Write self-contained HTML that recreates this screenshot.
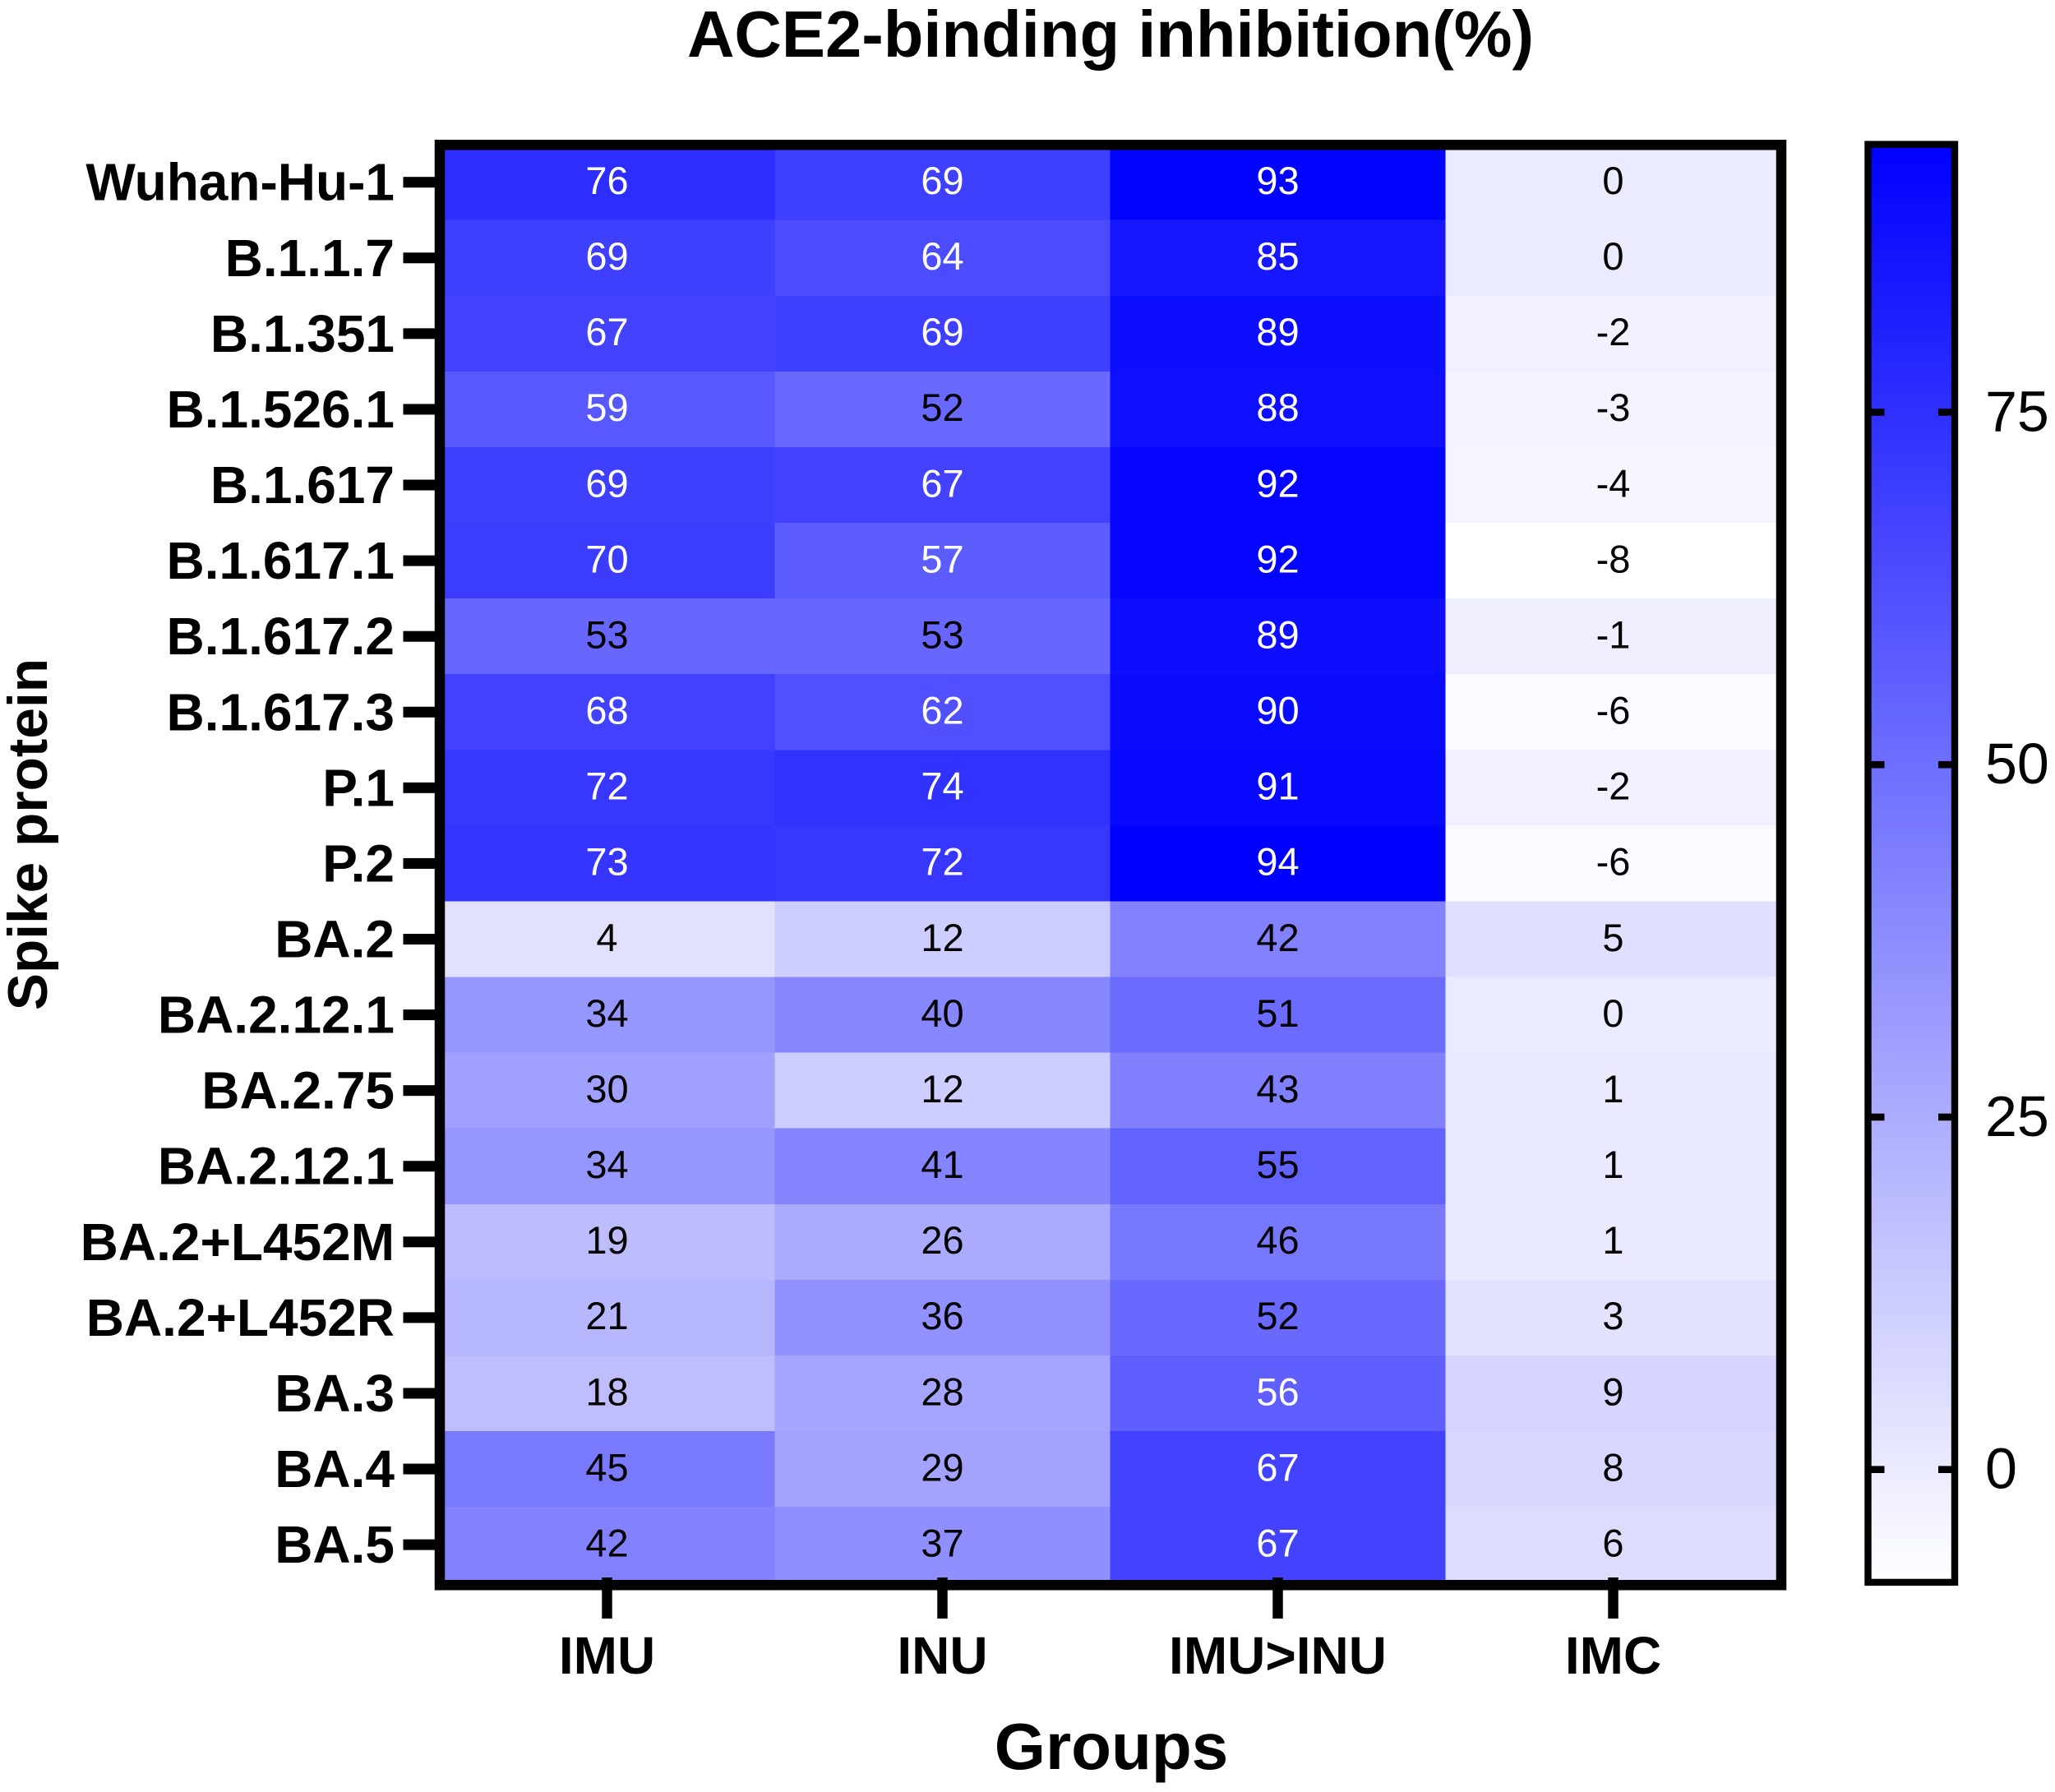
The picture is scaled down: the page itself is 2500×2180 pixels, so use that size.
<!DOCTYPE html>
<html lang="en">
<head>
<meta charset="utf-8">
<title>ACE2-binding inhibition heatmap</title>
<style>
html,body{margin:0;padding:0;background:#fff;}
svg{display:block;font-family:"Liberation Sans",Arial,sans-serif;}
</style>
</head>
<body>
<svg id="chart" xmlns="http://www.w3.org/2000/svg" width="2500" height="2180" viewBox="0 0 2500 2180">
  <defs>
    <linearGradient id="cbGrad" gradientUnits="userSpaceOnUse" x1="0" x2="0" y1="1925" y2="175.6">
      <stop offset="0" stop-color="#ffffff"></stop>
      <stop offset="1" stop-color="#0000ff"></stop>
    </linearGradient>
  </defs>
  <rect x="0" y="0" width="2500" height="2180" fill="#fff"></rect>
  <text x="1351" y="69" font-size="79.6" font-weight="700" text-anchor="middle" fill="#000">ACE2-binding inhibition(%)</text>
  <text x="1352" y="2152" font-size="80" font-weight="700" text-anchor="middle" fill="#000">Groups</text>
  <text transform="translate(57 1015) rotate(-90)" font-size="67.6" font-weight="700" text-anchor="middle" fill="#000">Spike protein</text>
  <g id="cells"></g>
  <g id="cellLabels"></g>
  <g id="yAxis"></g>
  <g id="xAxis"></g>
  <rect x="535" y="176.25" width="1632" height="1752" fill="none" stroke="#000" stroke-width="12.5"></rect>
  <g id="colorbar"></g>
</svg>
<script>
const spikes = ["Wuhan-Hu-1","B.1.1.7","B.1.351","B.1.526.1","B.1.617","B.1.617.1","B.1.617.2","B.1.617.3","P.1","P.2","BA.2","BA.2.12.1","BA.2.75","BA.2.12.1","BA.2+L452M","BA.2+L452R","BA.3","BA.4","BA.5"];
const groups = ["IMU","INU","IMU>INU","IMC"];
const imuValues = [76,69,67,59,69,70,53,68,72,73,4,34,30,34,19,21,18,45,42];
const inuValues = [69,64,69,52,67,57,53,62,74,72,12,40,12,41,26,36,28,29,37];
const imuInuValues = [93,85,89,88,92,92,89,90,91,94,42,51,43,55,46,52,56,67,67];
const imcValues = [0,0,-2,-3,-4,-8,-1,-6,-2,-6,5,0,1,1,1,3,9,8,6];
const colorbarTicks = [0,25,50,75];
const colorMin = -8;
const colorMax = 94;
const whiteTextFrom = 56;

const seriesList = [imuValues, inuValues, imuInuValues, imcValues];
const NS = "http://www.w3.org/2000/svg";

function xBand(j){ return 534.5 + 408 * j; }
function xCenter(j){ return xBand(j) + 204; }
function yBand(i){ return 175.66 + 92.08 * i; }
function yCenter(i){ return yBand(i) + 46.04; }
function cbY(v){ return 1787.7 - (v - 0) * 17.15; }
function cellColor(v){
  const t = Math.max(0, Math.min(1, (v - colorMin) / (colorMax - colorMin)));
  const c = Math.round(255 * (1 - t));
  return "rgb(" + c + "," + c + ",255)";
}
function make(tag, parent){
  const el = document.createElementNS(NS, tag);
  parent.appendChild(el);
  return el;
}
function setAll(el, attrs){
  for (const k in attrs) el.setAttribute(k, attrs[k]);
}

const cellsG = document.getElementById("cells");
const labelsG = document.getElementById("cellLabels");
const yG = document.getElementById("yAxis");
const xG = document.getElementById("xAxis");
const cbG = document.getElementById("colorbar");

seriesList.forEach(function(values, j){
  values.forEach(function(v, i){
    const r = make("rect", cellsG);
    
    
    setAll(r, {x:xBand(j), y:yBand(i), width:408.3, height:92.4, fill:cellColor(v), "shape-rendering":"crispEdges"});
    const t = make("text", labelsG);
    
    
    setAll(t, {x:xCenter(j), y:yCenter(i) + 14.3, "font-size":47, "text-anchor":"middle", fill:(v >= whiteTextFrom ? "#fff" : "#000")});
    t.textContent = String(v);
  });
});

spikes.forEach(function(name, i){
  const tick = make("rect", yG);
  
  
  setAll(tick, {x:490.5, y:yCenter(i) - 6.5, width:40, height:13, fill:"#000"});
  const t = make("text", yG);
  
  
  setAll(t, {x:480, y:yCenter(i) + 22, "font-size":64, "font-weight":700, "text-anchor":"end", fill:"#000"});
  t.textContent = name;
});

groups.forEach(function(name, j){
  const tick = make("rect", xG);
  
  
  setAll(tick, {x:xCenter(j) - 6.25, y:1919, width:12.5, height:50, fill:"#000"});
  const t = make("text", xG);
  
  
  setAll(t, {x:xCenter(j), y:2036, "font-size":64, "font-weight":700, "text-anchor":"middle", fill:"#000"});
  t.textContent = name;
});

const cbFill = make("rect", cbG);


setAll(cbFill, {x:2272.5, y:cbY(colorMax), width:105.5, height:cbY(colorMin) - cbY(colorMax), fill:"url(#cbGrad)"});

const grad = document.getElementById("cbGrad");
grad.setAttribute("y1", cbY(colorMin));
grad.setAttribute("y2", cbY(colorMax));

colorbarTicks.forEach(function(v){
  const left = make("rect", cbG);
  
  
  setAll(left, {x:2276, y:cbY(v) - 4.3, width:16.5, height:8.6, fill:"#000"});
  const right = make("rect", cbG);
  
  
  setAll(right, {x:2358, y:cbY(v) - 4.3, width:16.5, height:8.6, fill:"#000"});
  const t = make("text", cbG);
  
  
  setAll(t, {x:2415, y:cbY(v) + 23, "font-size":70, fill:"#000"});
  t.textContent = String(v);
});

const cbFrame = make("rect", cbG);


setAll(cbFrame, {x:2272.5, y:cbY(colorMax), width:105.5, height:cbY(colorMin) - cbY(colorMax), fill:"none", stroke:"#000", "stroke-width":8.4});
</script>
</body>
</html>
